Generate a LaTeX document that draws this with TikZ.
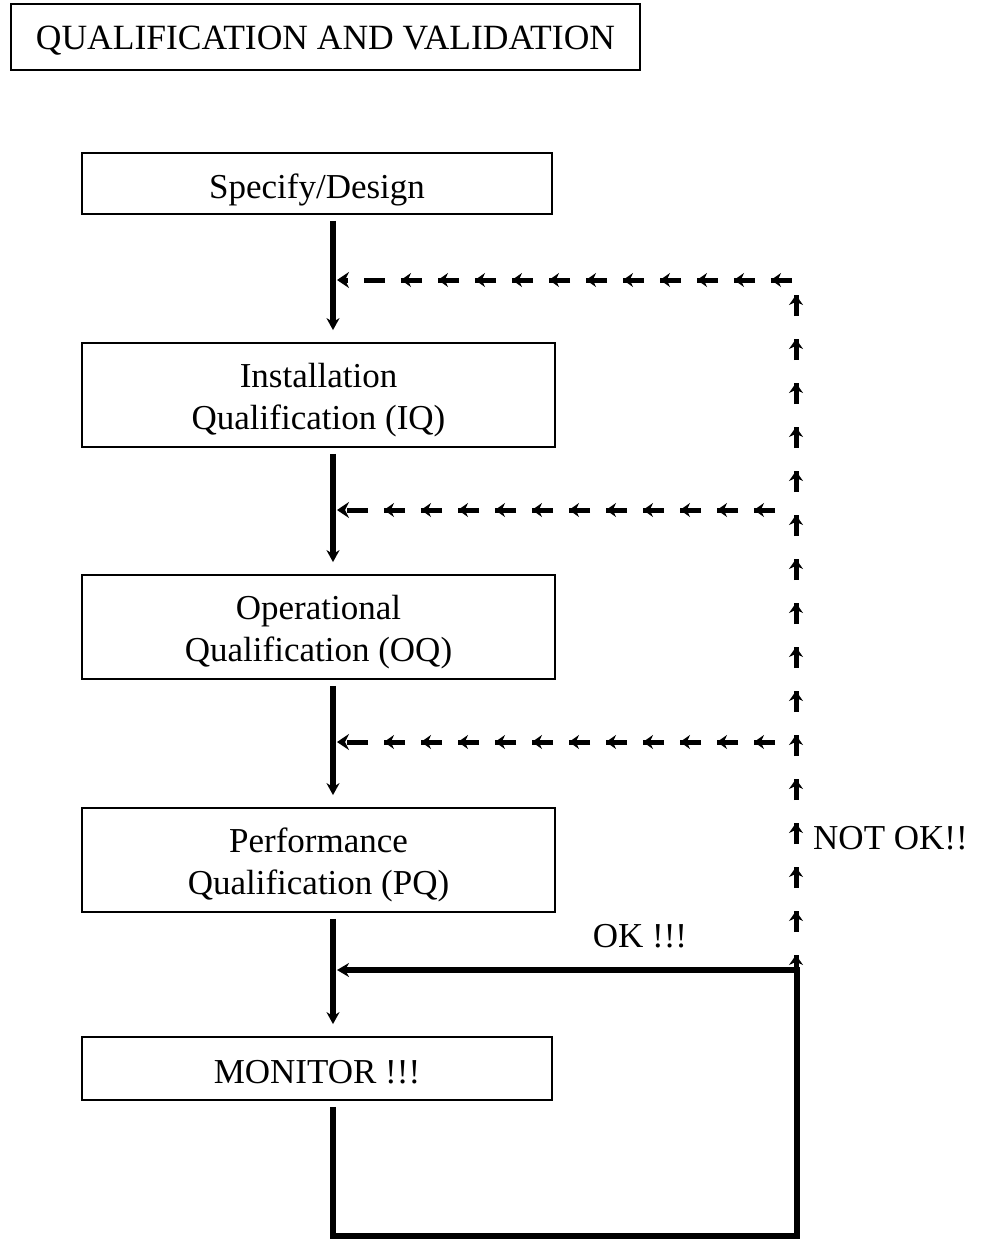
\documentclass[tikz,border=0pt]{standalone}
\usepackage{fontspec}
\setmainfont{Liberation Serif}
\usetikzlibrary{arrows.meta,decorations.markings}
\begin{document}
\begin{tikzpicture}[x=1pt,y=-1pt,
  box/.style={draw, line width=1.8pt, inner sep=0pt},
  txt/.style={inner sep=0pt, align=center, font=\fontsize{35}{42}\selectfont},
  lbl/.style={inner sep=0pt, font=\fontsize{35}{42}\selectfont},
  flow/.style={line width=5.5pt, -{Stealth[length=12pt,width=13pt]}},
  loopline/.style={line width=5.5pt, line join=miter, -{Stealth[length=12pt,width=14pt]}},
  backh/.style={line width=5pt, dash pattern=on 21pt off 16pt,
    -{Stealth[length=12pt,width=16pt]},
    postaction={decorate},
    decoration={markings, mark=between positions 21pt and -30pt step 37pt with
      {\arrow{Stealth[length=10pt,width=14pt]}}}},
  backv/.style={line width=5pt, dash pattern=on 21pt off 23pt,
    postaction={decorate},
    decoration={markings, mark=between positions 21pt and 1 step 44pt with
      {\arrow{Stealth[length=10pt,width=14pt]}}}}
]
\useasboundingbox (0,0) rectangle (983,1241);

% boxes
\node[box, minimum width=629pt, minimum height=66pt,
  label={[txt, font=\fontsize{35.5}{42}\selectfont, yshift=-4pt]center:QUALIFICATION AND VALIDATION}]
  (title) at (325.5,37) {};
\node[box, minimum width=470pt, minimum height=61pt,
  label={[txt, yshift=-6pt]center:Specify/Design}] (spec) at (317,183.5) {};
\node[box, minimum width=473pt, minimum height=104pt,
  label={[txt, yshift=-5pt]center:Installation\\Qualification (IQ)}] (iq) at (318.5,395) {};
\node[box, minimum width=473pt, minimum height=104pt,
  label={[txt, yshift=-5pt]center:Operational\\Qualification (OQ)}] (oq) at (318.5,627) {};
\node[box, minimum width=473pt, minimum height=104pt,
  label={[txt, yshift=-5pt]center:Performance\\Qualification (PQ)}] (pq) at (318.5,860) {};
\node[box, minimum width=470pt, minimum height=63pt,
  label={[txt, yshift=-4pt]center:MONITOR !!!}] (mon) at (317,1068.5) {};

% reference coordinates
\coordinate (m) at (333,0);
\coordinate (j1) at (337,280);
\coordinate (j2) at (337,510);
\coordinate (j3) at (337,742);
\coordinate (r1) at (792,280);
\coordinate (r2) at (775,510);
\coordinate (r3) at (775,742);
\coordinate (vtop) at (796,292);
\coordinate (vbot) at (796,976);
\coordinate (bl) at (333,1236);
\coordinate (br) at (797,1236);
\coordinate (okr) at (797,970);
\coordinate (okl) at (337,970);

% main flow
\draw[flow] ([yshift=-6pt]spec.south -| m) -- ([yshift=12pt]iq.north -| m);
\draw[flow] ([yshift=-6pt]iq.south -| m) -- ([yshift=12pt]oq.north -| m);
\draw[flow] ([yshift=-6pt]oq.south -| m) -- ([yshift=12pt]pq.north -| m);
\draw[flow] ([yshift=-6pt]pq.south -| m) -- ([yshift=12pt]mon.north -| m);

% OK loop
\draw[loopline] ([yshift=-6pt]mon.south -| m) -- (bl) -- (br) -- (okr) -- (okl);

% NOT OK feedback
\draw[backv] (vbot) -- (vtop);
\draw[backh] (r1) -- (j1);
\draw[backh] (r2) -- (j2);
\draw[backh] (r3) -- (j3);

% labels
\node[lbl] (ok) at (640,936) {OK !!!};
\node[lbl, anchor=west] (notok) at (813,838) {NOT OK!!};
\end{tikzpicture}
\end{document}
